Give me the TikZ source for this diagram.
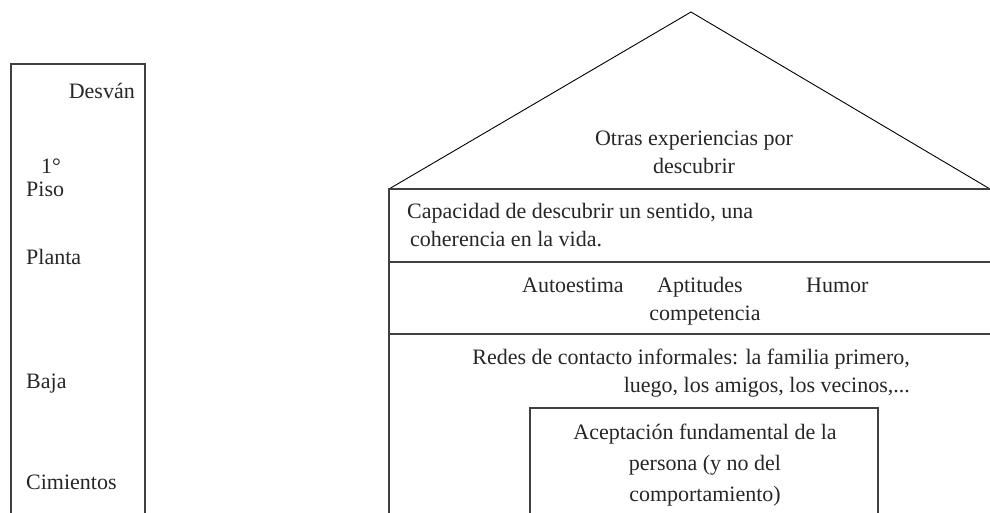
\documentclass[tikz,border=0pt]{standalone}
\usepackage{fontspec}
\setmainfont{Liberation Serif}
\begin{document}
\begin{tikzpicture}[x=1pt,y=-1pt,
  lbl/.style={inner sep=0pt,font=\fontsize{22}{26}\selectfont,text=black!85},
  wall/.style={draw=black!75,line width=1.2pt},
  roofline/.style={draw=black,line width=0.9pt}]
\useasboundingbox (0,0) rectangle (990,512);
% left column
\coordinate (lb1) at (11,520);
\coordinate (lt1) at (11,64);
\coordinate (lt2) at (145,64);
\coordinate (lb2) at (145,520);
\draw[wall] (lb1) -- (lt1) -- (lt2) -- (lb2);
\node[lbl,anchor=base east] (desvan) at (135,98) {Desván};
\node[lbl,anchor=base west] (primero) at (41,173) {1°};
\node[lbl,anchor=base west] (piso) at (26,196) {Piso};
\node[lbl,anchor=base west] (planta) at (26,264) {Planta};
\node[lbl,anchor=base west] (baja) at (26,388) {Baja};
\node[lbl,anchor=base west] (cimientos) at (26,489) {Cimientos};
% house
\coordinate (apex) at (691,12);
\coordinate (rl) at (389,189);
\coordinate (rr) at (990,189);
\coordinate (bl) at (389,520);
\draw[roofline] (rl) -- (apex) -- (rr);
\draw[wall] (bl) -- (rl) -- (rr);
\coordinate (l1a) at (389,262);
\coordinate (l1b) at (990,262);
\coordinate (l2a) at (389,334);
\coordinate (l2b) at (990,334);
\draw[wall] (l1a) -- (l1b);
\draw[wall] (l2a) -- (l2b);
\node[lbl,anchor=base] (otras1) at (694,145) {Otras experiencias por};
\node[lbl,anchor=base] (otras2) at (694,173) {descubrir};
\node[lbl,anchor=base west] (cap1) at (407,218) {Capacidad de descubrir un sentido, una};
\node[lbl,anchor=base west] (cap2) at (410,246) {coherencia en la vida.};
\node[lbl,anchor=base west] (auto) at (522,292) {Autoestima};
\node[lbl,anchor=base west] (apt) at (657,292) {Aptitudes};
\node[lbl,anchor=base west] (humor) at (806,292) {Humor};
\node[lbl,anchor=base] (comp) at (705,320) {competencia};
\node[lbl,anchor=base east] (redes1) at (910,364) {Redes de contacto informales: la familia primero,};
\node[lbl,anchor=base east] (redes2) at (910,392) {luego, los amigos, los vecinos,...};
% inner box
\coordinate (ib1) at (530,520);
\coordinate (it1) at (530,408);
\coordinate (it2) at (878,408);
\coordinate (ib2) at (878,520);
\draw[wall] (ib1) -- (it1) -- (it2) -- (ib2);
\node[lbl,anchor=base] (acep1) at (705,439) {Aceptación fundamental de la};
\node[lbl,anchor=base] (acep2) at (705,470) {persona (y no del};
\node[lbl,anchor=base] (acep3) at (705,501) {comportamiento)};
\end{tikzpicture}
\end{document}
